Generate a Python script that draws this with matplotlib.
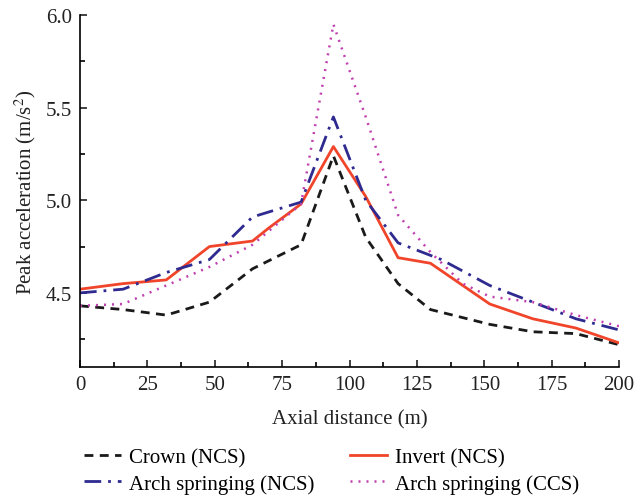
import matplotlib
matplotlib.use("Agg")
import matplotlib.pyplot as plt
from matplotlib.ticker import MultipleLocator

plt.rcParams['font.family'] = ['Liberation Serif', 'DejaVu Serif']
plt.rcParams['mathtext.fontset'] = 'stix'

x_crown = [0, 16, 32, 48, 64, 82, 94, 106, 118, 130, 152, 168, 184, 200]
crown = [4.43, 4.41, 4.38, 4.45, 4.63, 4.76, 5.24, 4.80, 4.55, 4.41, 4.33, 4.29, 4.28, 4.22]

x_invert = [0, 16, 32, 48, 64, 70, 82, 94, 106, 118, 130, 152, 168, 184, 200]
invert = [4.52, 4.55, 4.57, 4.75, 4.78, 4.85, 4.98, 5.29, 5.02, 4.69, 4.66, 4.44, 4.36, 4.31, 4.23]

x_arch = [0, 16, 32, 48, 64, 82, 94, 106, 118, 134, 152, 168, 184, 200]
arch = [4.50, 4.52, 4.61, 4.68, 4.91, 4.99, 5.45, 5.00, 4.77, 4.68, 4.54, 4.45, 4.36, 4.30]

x_ccs = [0, 16, 32, 48, 64, 82, 94, 106, 118, 130, 142, 152, 168, 184, 200]
ccs = [4.43, 4.44, 4.54, 4.64, 4.76, 4.98, 5.95, 5.45, 4.92, 4.72, 4.55, 4.48, 4.45, 4.38, 4.32]

labels = ["Crown (NCS)", "Invert (NCS)", "Arch springing (NCS)", "Arch springing (CCS)"]

fig = plt.figure(figsize=(6.35, 5.02), dpi=100)
ax = fig.add_axes([0.126, 0.267, 0.849, 0.701])

l1, = ax.plot(x_crown, crown, color='#1a1a1a', lw=2.0, linestyle=(0, (3.2, 2.3)), label=labels[0])
l2, = ax.plot(x_invert, invert, color='#f0452a', lw=2.0, linestyle='-', label=labels[1])
l3, = ax.plot(x_arch, arch, color='#2e2a90', lw=2.0, linestyle=(0, (6, 2.5, 1, 2.5)), label=labels[2])
l4, = ax.plot(x_ccs, ccs, color='#c040b0', lw=1.8, linestyle=(0, (0.8, 2.4)), label=labels[3])

ax.set_xlim(0, 200)
ax.set_ylim(4.1, 6.0)
ax.xaxis.set_major_locator(MultipleLocator(25))
ax.xaxis.set_minor_locator(MultipleLocator(12.5))
ax.yaxis.set_minor_locator(MultipleLocator(0.25))
ax.set_yticks([4.5, 5.0, 5.5, 6.0])
ax.yaxis.set_major_formatter(matplotlib.ticker.FormatStrFormatter('%.1f'))
for s in ['top', 'right']:
    ax.spines[s].set_visible(False)
for s in ['left', 'bottom']:
    ax.spines[s].set_linewidth(1.2)
ax.tick_params(which='major', direction='in', length=5, width=1.2, labelsize=15,
               colors='#222222', pad=6)
ax.tick_params(which='minor', direction='in', length=3.5, width=1.2)

ax.set_xlabel("Axial distance (m)", fontsize=15, color='#222222', labelpad=11)
ax.set_ylabel(r"Peak acceleration (m/s$^{2}$)", fontsize=15, color='#222222', labelpad=5)

fig.legend(handles=[l1, l3, l2, l4], labels=[labels[0], labels[2], labels[1], labels[3]],
           loc='center', bbox_to_anchor=(0.522, 0.06),
           ncol=2, frameon=False, fontsize=15, handlelength=1.78, columnspacing=1.73,
           handletextpad=0.38, labelspacing=0.3)

fig.savefig("out.png", dpi=100)
